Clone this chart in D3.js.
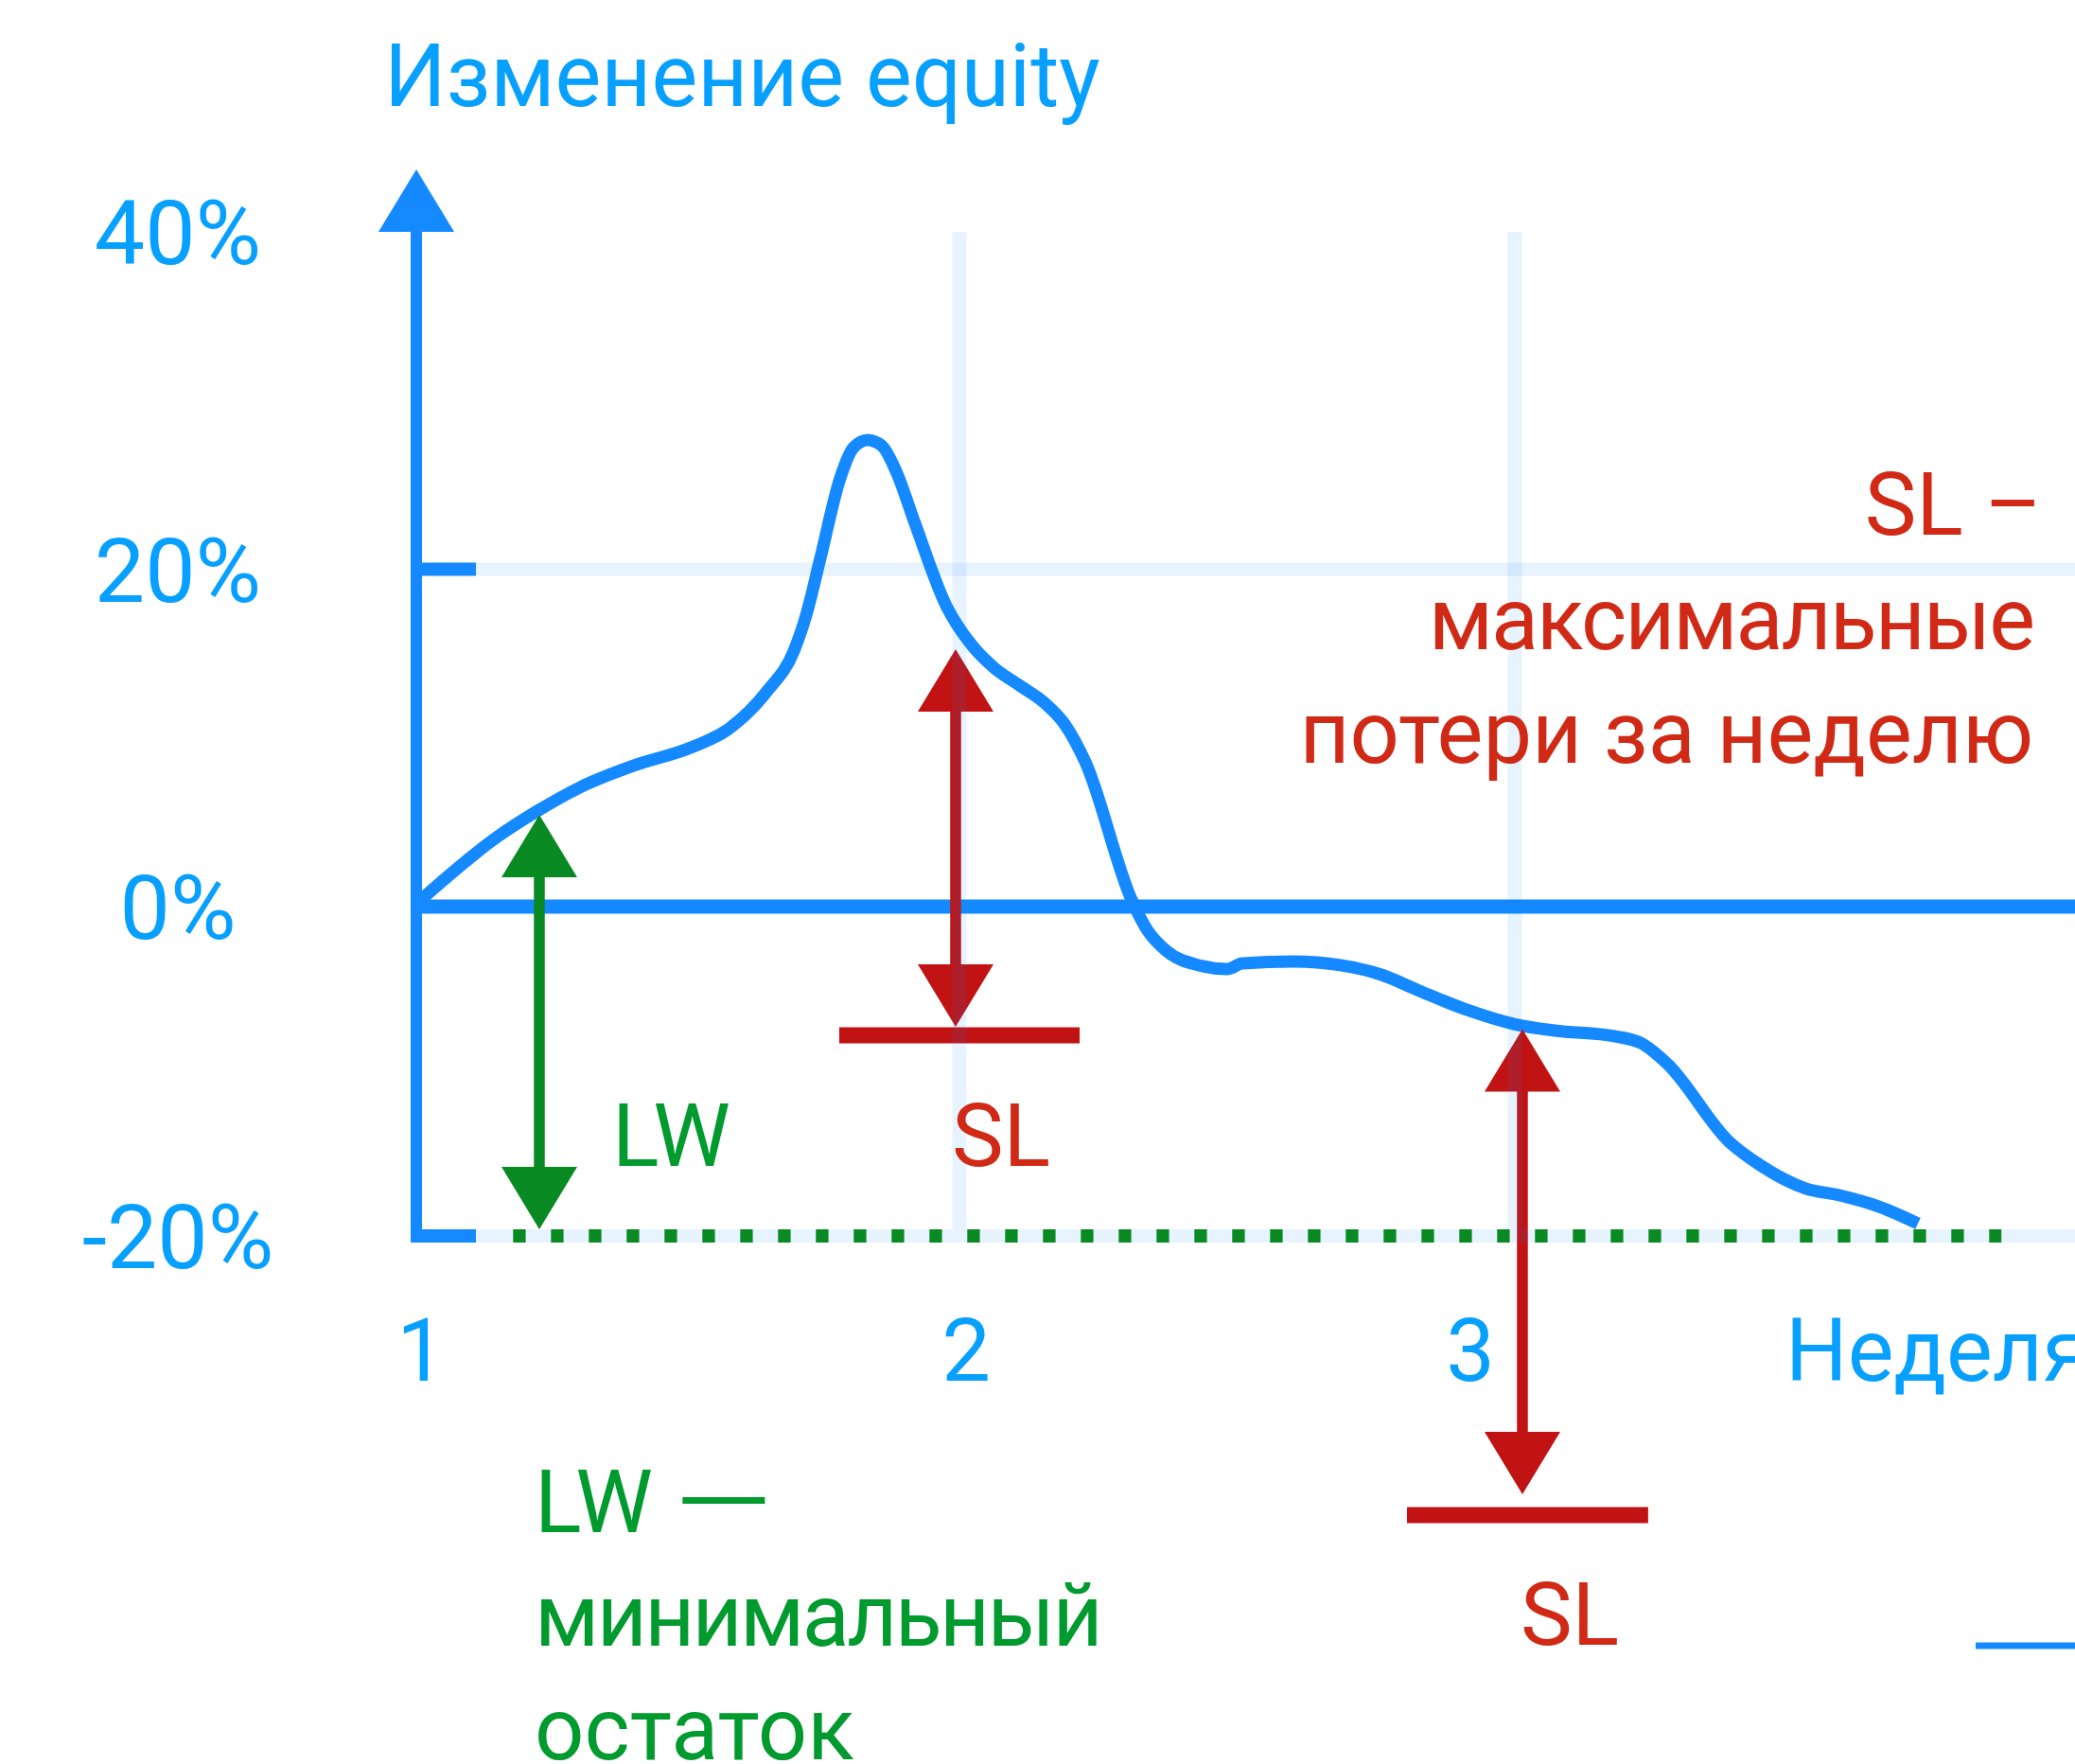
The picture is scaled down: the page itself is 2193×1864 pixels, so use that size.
<!DOCTYPE html>
<html><head><meta charset="utf-8">
<script src="https://cdn.jsdelivr.net/npm/d3@7"></script>
<style>html,body{margin:0;padding:0;background:#fff;overflow:hidden;} svg{display:block;font-family:Roboto, sans-serif;}</style>
</head><body><svg id="c" width="2193" height="1864"></svg>
<script>
// ---------- data ----------
const weekTicks = [1, 2, 3];
const weekTickLabels = ["1", "2", "3"];
const weekAxisTitle = "Неделя";
const gridWeeks = [2, 3];
const valueTicks = [40, 20, 0, -20];
const valueTickLabels = ["40%", "20%", "0%", "-20%"];
const gridValues = [20, -20];
const valueAxisTitle = "Изменение equity";

const equityWeeks = [1.0, 1.1498, 1.2230, 1.3014, 1.4007, 1.5052, 1.5732, 1.6463, 1.6951, 1.7178, 1.7439, 1.7805, 1.8049, 1.8310, 1.8571, 1.8833, 1.9181, 1.9756, 2.0239, 2.0613, 2.1073, 2.1516, 2.1891, 2.2266, 2.3101, 2.3373, 2.3731, 2.4310, 2.4821, 2.5094, 2.6014, 2.6865, 2.7598, 2.8279, 2.9131, 2.9983, 3.0716, 3.1789, 3.2266, 3.2743, 3.3867, 3.4412, 3.5247, 3.5843, 3.6559, 3.7257];
const equityValues = [0.17, 4.15, 5.67, 7.07, 8.36, 9.42, 10.49, 12.79, 15.15, 17.28, 20.65, 25.41, 27.21, 27.66, 27.32, 25.81, 22.72, 17.84, 15.43, 14.19, 13.13, 12.12, 10.83, 8.58, 0.39, -1.38, -2.70, -3.56, -3.79, -3.45, -3.33, -3.56, -4.14, -5.11, -6.26, -7.13, -7.53, -7.87, -8.28, -9.54, -14.31, -15.69, -17.13, -17.53, -18.22, -19.25];

// SL (stop loss) markers
const slWeeks = [1.993, 3.0136];
const slArrowTop = [15.26, -7.44];
const slArrowBottom = [-7.30, -35.69];
const slBarValue = [-7.82, -36.95];
const slBarFrom = [1.7787, 2.8058];
const slBarTo = [2.2164, 3.240];
const slLabel = "SL";

// LW (minimum balance) marker
const lwWeek = 1.2265;
const lwArrowTop = 5.44;
const lwArrowBottom = -19.6;
const lwLevel = -20;
const lwLevelFrom = 1.1782;
const lwLevelTo = 3.876;
const lwLabel = "LW";

const slNote = ["SL –", "максимальные", "потери за неделю"];
const lwNote = ["LW", "минимальный", "остаток"];
const lwNoteDash = "—";

// ---------- styles ----------
const BLUE = "#1589ff", TBLUE = "#07a0ff";
const RED = "#c11313", TRED = "#d02a16";
const GREEN = "#0a8a23", TGREEN = "#019a2e";
const FS = 92;

const svg = d3.select("#c");
const x = d3.scaleLinear().domain([1, 2, 3]).range([440, 1014, 1601]);
const y = d3.scaleLinear().domain([-20, 0, 40]).range([1306, 958, 245]);
const W = 2193;

function tri(cx, yTip, dir) { // dir -1: pointing up, +1: pointing down
  const p = d3.path();
  const yb = yTip - dir * 66;
  p.moveTo(cx, yTip); p.lineTo(cx - 40, yb); p.lineTo(cx + 40, yb); p.closePath();
  return p.toString();
}

// 0% line
svg.append("line").attr("x1", x(1)).attr("x2", W).attr("y1", y(0)).attr("y2", y(0))
  .attr("stroke", BLUE).attr("stroke-width", 15);

// equity curve
const pts = equityWeeks.map((w, i) => ({w, v: equityValues[i]}));
const line = d3.line().x(d => x(d.w)).y(d => y(d.v)).curve(d3.curveMonotoneX);
svg.append("path").attr("d", line(pts)).attr("fill", "none").attr("stroke", BLUE)
  .attr("stroke-width", 13).attr("stroke-linejoin", "round");

// SL arrows & bars
slWeeks.forEach((w, i) => {
  const cx = x(w), yt = y(slArrowTop[i]), yb = y(slArrowBottom[i]);
  svg.append("line").attr("x1", cx).attr("x2", cx).attr("y1", yt + 60).attr("y2", yb - 60)
    .attr("stroke", RED).attr("stroke-width", 11.5);
  svg.append("path").attr("d", tri(cx, yt, -1)).attr("fill", RED);
  svg.append("path").attr("d", tri(cx, yb, 1)).attr("fill", RED);
  svg.append("line").attr("x1", x(slBarFrom[i])).attr("x2", x(slBarTo[i]))
    .attr("y1", y(slBarValue[i])).attr("y2", y(slBarValue[i]))
    .attr("stroke", RED).attr("stroke-width", 17);
});

// LW arrow
{
  const cx = x(lwWeek), yt = y(lwArrowTop), yb = y(lwArrowBottom);
  svg.append("line").attr("x1", cx).attr("x2", cx).attr("y1", yt + 60).attr("y2", yb - 60)
    .attr("stroke", GREEN).attr("stroke-width", 11.5);
  svg.append("path").attr("d", tri(cx, yt, -1)).attr("fill", GREEN);
  svg.append("path").attr("d", tri(cx, yb, 1)).attr("fill", GREEN);
}

// light gridlines (semi-transparent, on top)
const g = svg.append("g").attr("stroke", BLUE).attr("stroke-opacity", 0.1);
gridValues.forEach(v => g.append("line").attr("x1", x(1) + 63).attr("x2", W)
  .attr("y1", y(v)).attr("y2", y(v)).attr("stroke-width", 14));
gridWeeks.forEach(w => g.append("line").attr("x1", x(w)).attr("x2", x(w))
  .attr("y1", y(40)).attr("y2", y(-20) - 7).attr("stroke-width", 15));

// LW dotted level
svg.append("line").attr("x1", x(lwLevelFrom)).attr("x2", x(lwLevelTo))
  .attr("y1", y(lwLevel)).attr("y2", y(lwLevel))
  .attr("stroke", GREEN).attr("stroke-width", 14).attr("stroke-dasharray", "13.3 26.7");

// y axis
svg.append("line").attr("x1", x(1)).attr("x2", x(1)).attr("y1", y(40)).attr("y2", y(-20) + 7)
  .attr("stroke", BLUE).attr("stroke-width", 12);
svg.append("path").attr("d", tri(x(1), y(40) - 66, -1)).attr("fill", BLUE);
[20, -20].forEach(v => svg.append("line").attr("x1", x(1) - 6).attr("x2", x(1) + 63)
  .attr("y1", y(v)).attr("y2", y(v)).attr("stroke", BLUE).attr("stroke-width", 14));

// y tick labels
valueTicks.forEach((v, i) => svg.append("text").attr("x", 188).attr("y", y(v) + 34)
  .attr("text-anchor", "middle").attr("font-size", 95).attr("fill", TBLUE).text(valueTickLabels[i]));
// x tick labels
const xLabelDx = [5, 7, -47];
weekTicks.forEach((w, i) => svg.append("text").attr("x", x(w) + xLabelDx[i]).attr("y", 1459)
  .attr("text-anchor", "middle").attr("font-size", FS).attr("fill", TBLUE).text(weekTickLabels[i]));
svg.append("text").attr("x", 1887).attr("y", 1459).attr("font-size", FS).attr("fill", TBLUE).text(weekAxisTitle);
svg.append("text").attr("x", 406).attr("y", 112).attr("font-size", FS).attr("fill", TBLUE).text(valueAxisTitle);

// legend stub
svg.append("line").attr("x1", 2088).attr("x2", W).attr("y1", 1739).attr("y2", 1739)
  .attr("stroke", BLUE).attr("stroke-width", 7);

// annotation labels
svg.append("text").attr("x", x(slWeeks[0]) - 4).attr("y", 1232).attr("font-size", FS).attr("fill", TRED).text(slLabel);
svg.append("text").attr("x", x(slWeeks[1]) - 2).attr("y", 1738).attr("font-size", FS).attr("fill", TRED).text(slLabel);
svg.append("text").attr("x", x(lwWeek) + 77).attr("y", 1232).attr("font-size", FS).attr("fill", TGREEN).text(lwLabel);

const slSpacing = [0, -2, 0];
slNote.forEach((t, i) => svg.append("text").attr("x", i === 0 ? 2158 : 2149).attr("y", 565 + i * 120.5)
  .attr("text-anchor", "end").attr("font-size", FS).attr("letter-spacing", slSpacing[i])
  .attr("fill", TRED).text(t));
const lwSpacing = [0, -2.6, 0];
lwNote.forEach((t, i) => svg.append("text").attr("x", 565).attr("y", 1619 + i * 120)
  .attr("font-size", FS).attr("letter-spacing", lwSpacing[i]).attr("fill", TGREEN).text(t));
svg.append("text").attr("transform", "translate(712,1619) scale(1.45,1)")
  .attr("font-size", FS).attr("fill", TGREEN).text(lwNoteDash);
</script></body></html>
